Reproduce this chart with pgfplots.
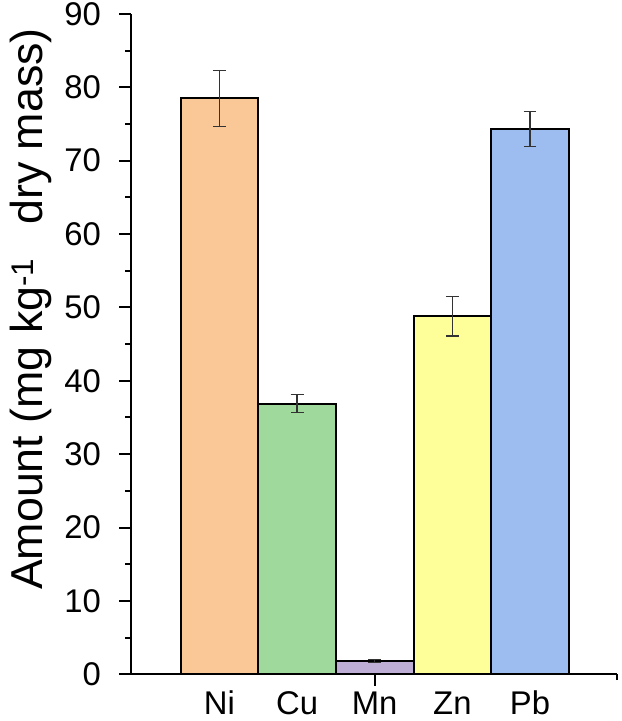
\documentclass[border=0pt]{standalone}
\usepackage{fontspec}
\setmainfont{Liberation Sans}
\usepackage{pgfplots}
\pgfplotsset{compat=1.18}
\definecolor{cNi}{HTML}{FAC896}
\definecolor{cCu}{HTML}{A0D99C}
\definecolor{cMn}{HTML}{BEAED6}
\definecolor{cZn}{HTML}{FFFF99}
\definecolor{cPb}{HTML}{9DBCF0}
\definecolor{errc}{HTML}{333333}
\pgfplotsset{mybar/.style={ybar, bar width=1, bar shift=0pt, draw=black, line width=2pt, fill=#1,
  error bars/y dir=both, error bars/y explicit,
  error bars/error bar style={line width=1.3pt, color=errc},
  error bars/error mark options={rotate=90, mark size=6.5pt, line width=1.3pt, color=errc}}}
\begin{document}
\begin{tikzpicture}
\begin{axis}[
  scale only axis, width=488pt, height=664pt,
  xmin=-0.135, xmax=6.115, ymin=0, ymax=90,
  axis x line*=bottom, axis y line*=left,
  axis line style={line width=2pt},
  ytick={0,10,...,90}, minor y tick num=1,
  xtick={3}, xticklabels={}, minor xtick={6.115},
  extra x ticks={1,2,3,4,5},
  extra x tick labels={Ni,Cu,Mn,Zn,Pb},
  extra x tick style={major tick length=0pt, xticklabel style={anchor=base, yshift=-40pt}},
  tick align=outside, major tick length=12pt, minor tick length=6pt,
  tick style={line width=2pt, black},
  ticklabel style={font=\fontsize{33}{38}\selectfont},
  /pgf/number format/assume math mode=true,
  yticklabel style={xshift=-15pt},
  ylabel={Amount (mg kg\textsuperscript{-1}\hspace{0.75em}dry mass)},
  ylabel style={font=\fontsize{45}{50}\selectfont, at={(axis description cs:-0.207,0.553)}, anchor=center, rotate=0},
  clip=false,
]
\addplot[mybar=cNi] coordinates {(1,78.5) +- (0,3.8)};
\addplot[mybar=cCu] coordinates {(2,36.9) +- (0,1.2)};
\addplot[mybar=cMn] coordinates {(3,1.85) +- (0,0.2)};
\addplot[mybar=cZn] coordinates {(4,48.8) +- (0,2.7)};
\addplot[mybar=cPb] coordinates {(5,74.3) +- (0,2.4)};
\coordinate (bl) at (rel axis cs:0,0);
\coordinate (tr) at (rel axis cs:1,1);
\end{axis}
\pgfresetboundingbox
\path ([shift={(-132pt,-47pt)}]bl) rectangle ([shift={(5pt,14pt)}]tr);
\end{tikzpicture}
\end{document}
